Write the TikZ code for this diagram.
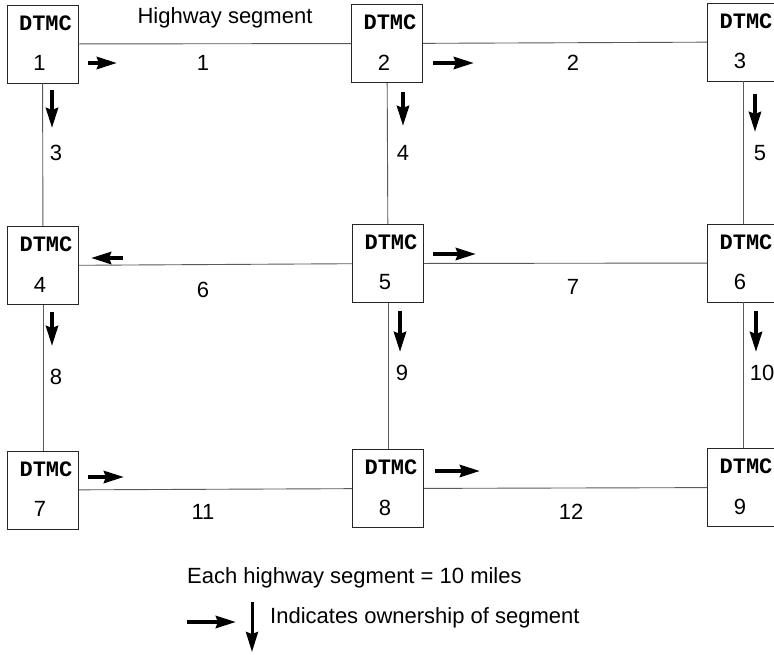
\documentclass[tikz,border=0pt]{standalone}
\usepackage{fontspec}
\setmainfont{Liberation Sans}
\setmonofont{Liberation Mono}
\usetikzlibrary{arrows.meta,positioning}
\newcommand{\bigtext}{\fontsize{22}{24}\selectfont}
\newcommand{\tagtext}{\ttfamily\bfseries\fontsize{22}{24}\selectfont}
\tikzset{
  dtmc/.style={draw=black!85,line width=0.9pt,minimum width=71pt,minimum height=78pt,inner sep=0pt,
    label={[font=\tagtext,inner sep=0pt,xshift=3pt,yshift=21pt]center:DTMC},
    label={[font=\bigtext,inner sep=0pt,xshift=-3pt,yshift=-19pt]center:#1}},
  road/.style={draw=black!65,line width=0.9pt},
  owner/.style={-{Stealth[length=20pt,width=12pt,inset=2pt]},line width=4pt},
  seg/.style={font=\bigtext,inner sep=0pt},
  note/.style={font=\bigtext,inner sep=0pt,anchor=west}
}
\begin{document}
\begin{tikzpicture}[x=1pt,y=-1pt]
    \useasboundingbox (0,0) rectangle (774,654);
    % data traffic management centres
    \node[dtmc=1] (d1) at (42.5,44) {};
    \node[dtmc=2] (d2) at (387,43.5) {};
    \node[dtmc=3] (d3) at (743,42) {};
    \node[dtmc=4] (d4) at (43,265.5) {};
    \node[dtmc=5] (d5) at (388,263.5) {};
    \node[dtmc=6] (d6) at (743,263) {};
    \node[dtmc=7] (d7) at (43,490) {};
    \node[dtmc=8] (d8) at (388,488.5) {};
    \node[dtmc=9] (d9) at (743,487.5) {};
    % highway segments
    \draw[road] (d1) -- (d2);
    \draw[road] (d2) -- (d3);
    \draw[road] (d4) -- (d5);
    \draw[road] (d5) -- (d6);
    \draw[road] (d7) -- (d8);
    \draw[road] (d8) -- (d9);
    \draw[road] (d1) -- (d4);
    \draw[road] (d4) -- (d7);
    \draw[road] (d2) -- (d5);
    \draw[road] (d5) -- (d8);
    \draw[road] (d3) -- (d6);
    \draw[road] (d6) -- (d9);
    \node[seg] (hwy) at (225,18) {Highway segment};
    \node[seg] (s1) at (203,63) {1};
    \node[seg] (s2) at (573,63) {2};
    \node[seg] (s3) at (56,153) {3};
    \node[seg] (s4) at (403,153) {4};
    \node[seg] (s5) at (760,153) {5};
    \node[seg] (s6) at (203,290) {6};
    \node[seg] (s7) at (573,287) {7};
    \node[seg] (s8) at (56,377) {8};
    \node[seg] (s9) at (402,373) {9};
    \node[seg] (s10) at (762,373) {10};
    \node[seg] (s11) at (203,512) {11};
    \node[seg] (s12) at (571,512) {12};
    % ownership
    \draw[owner] (88,63) -- (117,63);
    \draw[owner] (433,63) -- (474,63);
    \draw[owner] (52,90) -- (52,128);
    \draw[owner] (403,92) -- (403,126);
    \draw[owner] (755,94) -- (755,132);
    \draw[owner] (123,258) -- (91,258);
    \draw[owner] (52,312) -- (52,346);
    \draw[owner] (433,254) -- (476,254);
    \draw[owner] (400,311) -- (400,352);
    \draw[owner] (756,311) -- (756,352);
    \draw[owner] (88,477) -- (124,477);
    \draw[owner] (435,471) -- (480,471);
    % legend
    \node[note] (leg1) at (187,578) {Each highway segment = 10 miles};
    \draw[owner] (187,622) -- (236,622);
    \draw[owner,line width=3pt] (252,602) -- (252,652);
    \node[note] (leg2) at (270,618) {Indicates ownership of segment};
\end{tikzpicture}
\end{document}
